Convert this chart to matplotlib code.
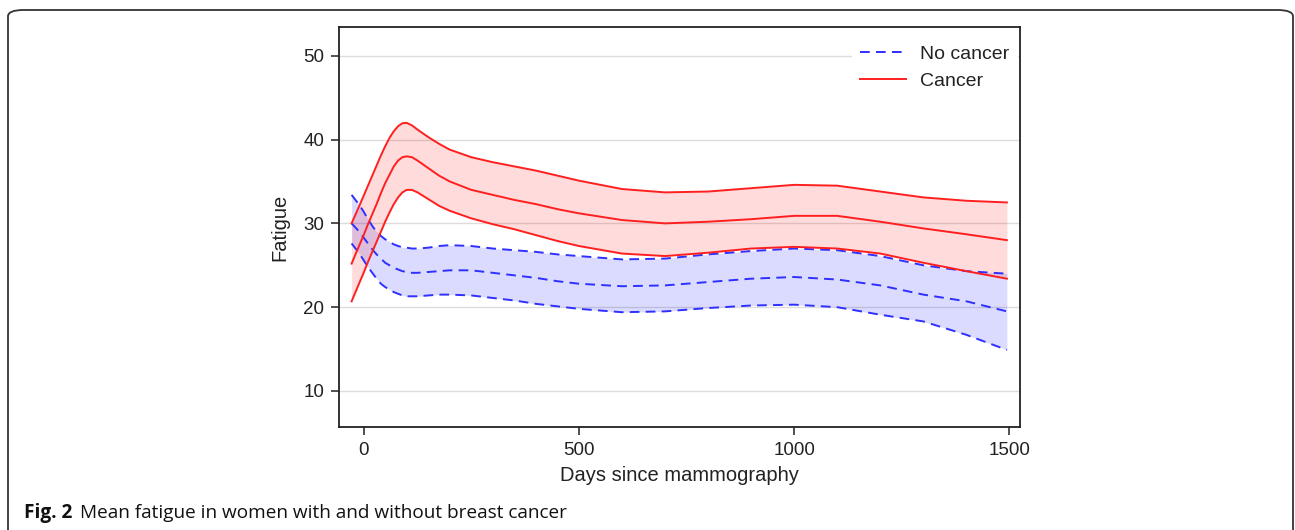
# Mean fatigue in women with and without breast cancer
import matplotlib
matplotlib.use("Agg")
import matplotlib.pyplot as plt
from matplotlib.patches import FancyBboxPatch

# Days since mammography (shared grid for all curves)
days = [-28, -10, 0, 10, 20, 30, 40, 50, 60, 70, 80, 90, 100, 112, 125, 150, 175,
        200, 250, 300, 350, 400, 450, 500, 600, 700, 800, 900, 1000, 1100, 1200,
        1300, 1400, 1494]

# Cancer group: mean and 95% band
cancer_mean = [25.2, 27.4, 28.6, 29.9, 31.1, 32.3, 33.6, 34.8, 35.8, 36.8, 37.5,
               37.9, 38.0, 37.9, 37.5, 36.6, 35.7, 35.0, 34.0, 33.4, 32.8, 32.3,
               31.7, 31.2, 30.4, 30.0, 30.2, 30.5, 30.9, 30.9, 30.2, 29.4, 28.7,
               28.0]
cancer_upper = [30.0, 32.1, 33.3, 34.5, 35.7, 36.9, 38.1, 39.2, 40.2, 41.0, 41.6,
                41.95, 42.0, 41.7, 41.2, 40.3, 39.5, 38.8, 37.9, 37.3, 36.8, 36.3,
                35.7, 35.1, 34.1, 33.7, 33.8, 34.2, 34.6, 34.5, 33.8, 33.1, 32.7,
                32.5]
cancer_lower = [20.7, 22.9, 24.1, 25.4, 26.6, 27.8, 29.0, 30.2, 31.3, 32.3, 33.1,
                33.7, 34.0, 34.0, 33.7, 32.9, 32.1, 31.5, 30.6, 29.9, 29.3, 28.6,
                27.9, 27.3, 26.4, 26.1, 26.5, 27.0, 27.2, 27.0, 26.4, 25.3, 24.3,
                23.4]

# No-cancer group: mean and 95% band
nocancer_mean = [30.0, 29.0, 28.3, 27.6, 26.9, 26.3, 25.8, 25.3, 25.0, 24.7, 24.5,
                 24.3, 24.2, 24.1, 24.1, 24.2, 24.3, 24.4, 24.4, 24.1, 23.8, 23.5,
                 23.1, 22.8, 22.5, 22.6, 23.0, 23.4, 23.6, 23.3, 22.6, 21.5, 20.7,
                 19.5]
nocancer_upper = [33.4, 32.2, 31.4, 30.5, 29.7, 29.0, 28.5, 28.1, 27.8, 27.5, 27.3,
                  27.15, 27.1, 27.0, 27.0, 27.1, 27.3, 27.4, 27.3, 27.0, 26.8, 26.6,
                  26.3, 26.1, 25.7, 25.8, 26.3, 26.7, 27.0, 26.8, 26.1, 25.0, 24.3,
                  24.0]
nocancer_lower = [27.6, 26.4, 25.6, 24.8, 24.1, 23.4, 22.8, 22.4, 22.1, 21.8, 21.6,
                  21.4, 21.3, 21.3, 21.3, 21.4, 21.5, 21.5, 21.4, 21.1, 20.8, 20.4,
                  20.1, 19.8, 19.4, 19.5, 19.9, 20.2, 20.3, 20.0, 19.1, 18.3, 16.7,
                  14.9]

x_ticks = [0, 500, 1000, 1500]
y_ticks = [10, 20, 30, 40, 50]

plt.rcParams['font.family'] = ['Liberation Sans', 'DejaVu Sans']

fig = plt.figure(figsize=(12.95, 5.3), dpi=100)
ax = fig.add_axes([0.262, 0.1943, 0.526, 0.7542])

red = '#ff1f1f'
blue = '#2f2fff'

ax.fill_between(days, nocancer_lower, nocancer_upper, color='#0000ff', alpha=0.14,
                lw=0, zorder=2)
ax.fill_between(days, cancer_lower, cancer_upper, color='#ff0000', alpha=0.14,
                lw=0, zorder=2)

for s in (nocancer_upper, nocancer_mean, nocancer_lower):
    ax.plot(days, s, color=blue, lw=1.4, dashes=(5, 3.2), zorder=3)
for s in (cancer_upper, cancer_mean, cancer_lower):
    ax.plot(days, s, color=red, lw=1.4, zorder=3)

# legend proxies
ax.plot([], [], color=blue, lw=1.4, dashes=(5, 3.2), label='No cancer')
ax.plot([], [], color=red, lw=1.4, label='Cancer')

ax.set_xlim(-56.6, 1525.5)
ax.set_ylim(5.7, 53.4)
ax.set_xticks(x_ticks)
ax.set_yticks(y_ticks)
ax.grid(axis='y', color='#dcdcdc', lw=1.0, zorder=0)
ax.set_axisbelow(True)

for sp in ax.spines.values():
    sp.set_color('#222222')
    sp.set_linewidth(1.3)
ax.tick_params(axis='both', direction='out', length=6, width=1.1, color='#222222',
               labelsize=13.5, labelcolor='#222222', pad=5)
ax.set_xlabel('Days since mammography', fontsize=14.5, color='#222222', labelpad=5)
ax.set_ylabel('Fatigue', fontsize=14.5, color='#222222', labelpad=10)

handles, labels = ax.get_legend_handles_labels()
leg = ax.legend(handles[-2:], labels[-2:], loc='upper right', frameon=True,
                fontsize=14, handlelength=2.4, handletextpad=0.7,
                labelspacing=0.5, borderaxespad=0.0, bbox_to_anchor=(0.995, 0.975))
leg.get_frame().set_facecolor('white')
leg.get_frame().set_edgecolor('white')
leg.get_frame().set_alpha(1.0)
for t in leg.get_texts():
    t.set_color('#222222')

# rounded figure border
W, H = 1295.0, 530.0
box = FancyBboxPatch((8 / W, -0.05), (1293 - 8) / W, 1.05 - 10 / H,
                     boxstyle='round,pad=0,rounding_size=0.012',
                     transform=fig.transFigure, fill=False, ec='#333333', lw=1.3,
                     clip_on=False)
fig.patches.append(box)

# caption
fig.text(24 / W, 1 - 518 / H, 'Fig. 2', fontsize=13.7, fontweight='bold',
         family='Open Sans', va='baseline', ha='left', color='#111111')
fig.text(80 / W, 1 - 518 / H, 'Mean fatigue in women with and without breast cancer',
         fontsize=13.7, family='Open Sans', va='baseline', ha='left', color='#111111')

fig.savefig('out.png', dpi=100)
